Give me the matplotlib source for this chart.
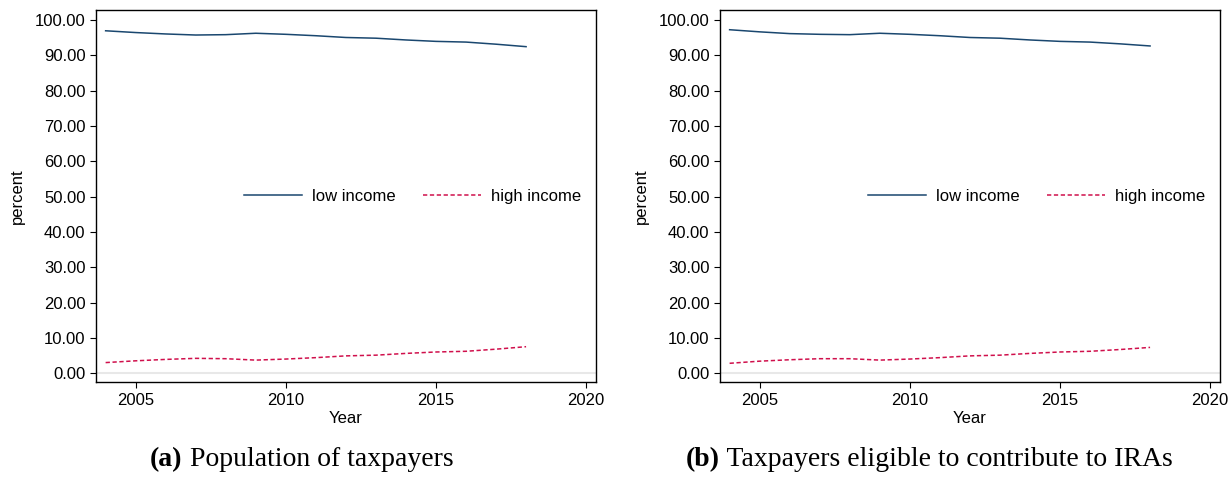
import matplotlib
matplotlib.use("Agg")
import matplotlib.pyplot as plt

# share of taxpayers by income group
years = [2004, 2005, 2006, 2007, 2008, 2009, 2010, 2011, 2012, 2013, 2014, 2015, 2016, 2017, 2018]
low_pop = [97.0, 96.5, 96.1, 95.8, 95.9, 96.3, 96.0, 95.6, 95.1, 94.9, 94.4, 94.0, 93.8, 93.2, 92.5]
high_pop = [3.0, 3.5, 3.9, 4.2, 4.1, 3.7, 4.0, 4.4, 4.9, 5.1, 5.6, 6.0, 6.2, 6.8, 7.5]
low_ira = [97.3, 96.7, 96.2, 96.0, 95.9, 96.3, 96.0, 95.6, 95.1, 94.9, 94.4, 94.0, 93.8, 93.3, 92.7]
high_ira = [2.8, 3.4, 3.8, 4.1, 4.1, 3.7, 4.0, 4.4, 4.9, 5.1, 5.6, 6.0, 6.2, 6.7, 7.3]
captions = [("(a)", "Population of taxpayers"),
            ("(b)", "Taxpayers eligible to contribute to IRAs")]

navy = "#1a476f"
red = "#d0104c"

plt.rcParams['font.family'] = ['Liberation Sans', 'DejaVu Sans']

fig = plt.figure(figsize=(12.31, 4.91), dpi=100)
lefts = [0.0780, 0.5849]
width = 0.4062
bottom = 0.2210
height = 0.758
caption_x = [0.245, 0.7547]

panels = [(low_pop, high_pop), (low_ira, high_ira)]
for i, (low, high) in enumerate(panels):
    ax = fig.add_axes([lefts[i], bottom, width, height])
    ax.axhline(0, color="#e8e8e8", lw=1.5, zorder=0)
    ax.plot(years, low, color=navy, lw=1.1, label="low income")
    ax.plot(years, high, color=red, lw=1.1, ls=(0, (2.8, 1.7)), label="high income")
    ax.set_xlim(2003.68, 2020.33)
    ax.set_ylim(-2.64, 102.8)
    ax.set_xticks([2005, 2010, 2015, 2020])
    ax.set_yticks(range(0, 101, 10))
    ax.set_yticklabels(["%.2f" % v for v in range(0, 101, 10)])
    ax.tick_params(labelsize=12, length=4.5, width=0.8, colors="black", pad=3)
    for s in ax.spines.values():
        s.set_linewidth(1.0)
    ax.set_xlabel("Year", fontsize=12, labelpad=2)
    ax.set_ylabel("percent", fontsize=12, labelpad=7)
    ax.legend(loc="center right", bbox_to_anchor=(1.0, 0.5), ncol=2, frameon=False,
              fontsize=12, handlelength=3.5, columnspacing=1.6, handletextpad=0.6)

    # caption below each panel, bold label then normal text
    lab, txt = captions[i]
    t1 = fig.text(0, 0, lab, fontsize=20, weight="bold", family="Liberation Serif")
    t2 = fig.text(0, 0, " " + txt, fontsize=20, family="Liberation Serif")
    fig.canvas.draw()
    r = fig.canvas.get_renderer()
    w1 = t1.get_window_extent(r).width / fig.bbox.width
    w2 = t2.get_window_extent(r).width / fig.bbox.width
    x0 = caption_x[i] - (w1 + w2) / 2
    t1.set_position((x0, 0.05))
    t2.set_position((x0 + w1, 0.05))

fig.savefig("out.png", dpi=100)
